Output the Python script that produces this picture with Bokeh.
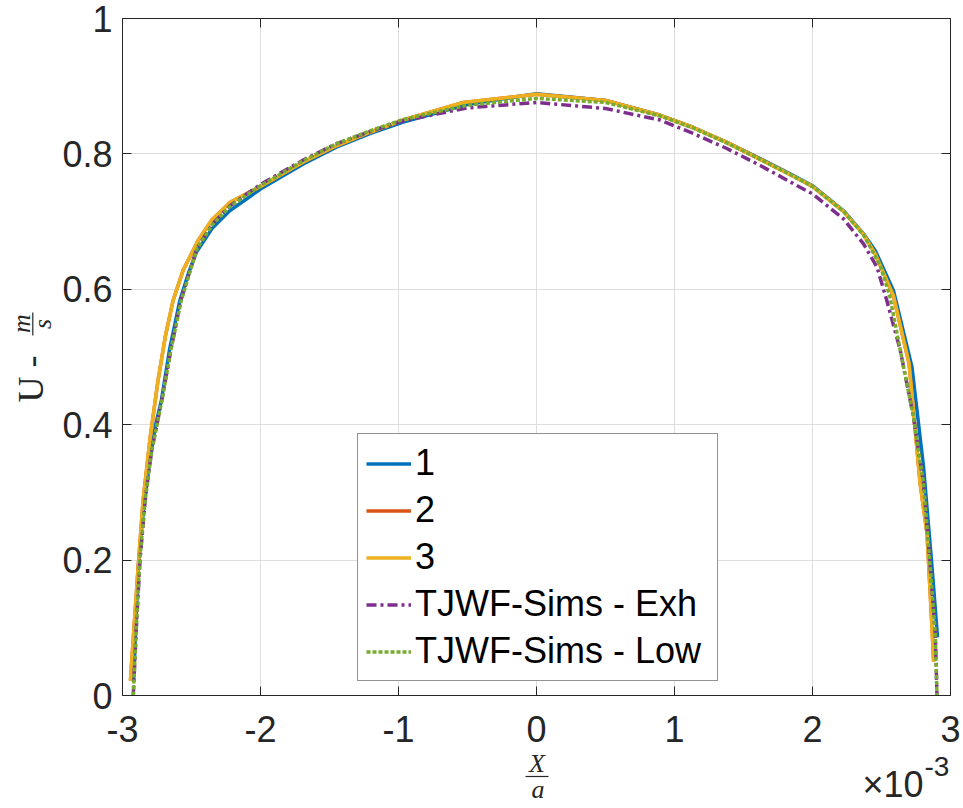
from bokeh.plotting import figure
from bokeh.models import (Range1d, FixedTicker, LinearAxis, Legend, LegendItem, Grid,
                          Label, BoxAnnotation, CustomJSTickFormatter, ColumnDataSource)
from bokeh.embed import file_html
from bokeh.resources import INLINE

# ---------------- data (x in units of 1e-3, i.e. X/a x 10^3 ; y = U in m/s) ----------------
x1 = [-2.920, -2.905, -2.885, -2.860, -2.839, -2.800, -2.760, -2.718, -2.660, -2.585, -2.520,
      -2.464, -2.350, -2.223, -2.000, -1.690, -1.450, -1.207, -0.966, -0.500, 0.000, 0.500,
      0.896, 1.137, 1.379, 1.621, 1.862, 2.000, 2.225, 2.370, 2.455, 2.587, 2.721, 2.805,
      2.866, 2.906]
y1 = [0.020, 0.100, 0.190, 0.250, 0.288, 0.350, 0.400, 0.436, 0.510, 0.583, 0.625,
      0.655, 0.690, 0.716, 0.748, 0.785, 0.810, 0.830, 0.847, 0.873, 0.889, 0.879,
      0.857, 0.839, 0.817, 0.793, 0.768, 0.753, 0.716, 0.682, 0.657, 0.598, 0.485, 0.337,
      0.190, 0.086]

x2 = [-2.942, -2.920, -2.890, -2.851, -2.800, -2.743, -2.690, -2.634, -2.561, -2.452, -2.350,
      -2.223, -2.000, -1.690, -1.450, -1.207, -0.966, -0.530, 0.000, 0.500, 0.896, 1.137,
      1.379, 1.621, 1.862, 2.000, 2.225, 2.370, 2.455, 2.587, 2.700, 2.780, 2.830, 2.866, 2.878]
y2 = [0.022, 0.090, 0.180, 0.288, 0.380, 0.465, 0.530, 0.583, 0.628, 0.672, 0.703,
      0.728, 0.752, 0.788, 0.812, 0.832, 0.850, 0.876, 0.888, 0.879, 0.857, 0.839,
      0.817, 0.792, 0.767, 0.752, 0.715, 0.681, 0.652, 0.590, 0.490, 0.313, 0.239, 0.100, 0.050]

x3 = [-2.943, -2.920, -2.890, -2.851, -2.800, -2.743, -2.690, -2.634, -2.561, -2.452, -2.350,
      -2.223, -2.000, -1.690, -1.450, -1.207, -0.966, -0.530, 0.000, 0.500, 0.896, 1.137,
      1.379, 1.621, 1.862, 2.000, 2.225, 2.370, 2.455, 2.587, 2.700, 2.780, 2.830, 2.866, 2.878]
y3 = [0.022, 0.090, 0.180, 0.288, 0.380, 0.465, 0.530, 0.583, 0.628, 0.672, 0.703,
      0.728, 0.752, 0.788, 0.812, 0.832, 0.850, 0.876, 0.888, 0.879, 0.857, 0.839,
      0.817, 0.792, 0.767, 0.752, 0.715, 0.681, 0.652, 0.590, 0.490, 0.313, 0.239, 0.100, 0.050]

x4 = [-2.922, -2.900, -2.873, -2.835, -2.790, -2.712, -2.650, -2.578, -2.462, -2.350, -2.223,
      -2.000, -1.690, -1.450, -1.207, -0.966, -0.500, 0.000, 0.500, 0.896, 1.137, 1.379,
      1.621, 1.862, 2.000, 2.225, 2.370, 2.467, 2.539, 2.636, 2.732, 2.805, 2.853, 2.890, 2.902]
y4 = [0.000, 0.100, 0.200, 0.290, 0.360, 0.440, 0.510, 0.583, 0.660, 0.696, 0.723,
      0.755, 0.791, 0.815, 0.833, 0.849, 0.868, 0.876, 0.867, 0.850, 0.830, 0.808,
      0.783, 0.756, 0.741, 0.704, 0.667, 0.633, 0.583, 0.510, 0.411, 0.313, 0.190, 0.091, 0.000]

x5 = [-2.922, -2.900, -2.875, -2.835, -2.790, -2.710, -2.650, -2.575, -2.460, -2.350, -2.223,
      -2.000, -1.690, -1.450, -1.207, -0.966, -0.500, 0.000, 0.500, 0.896, 1.137, 1.379,
      1.621, 1.862, 2.000, 2.225, 2.370, 2.491, 2.560, 2.636, 2.732, 2.805, 2.853, 2.890, 2.902]
y5 = [0.000, 0.100, 0.200, 0.290, 0.360, 0.440, 0.510, 0.583, 0.660, 0.695, 0.722,
      0.753, 0.790, 0.815, 0.834, 0.851, 0.872, 0.882, 0.876, 0.856, 0.838, 0.816,
      0.792, 0.767, 0.752, 0.715, 0.680, 0.635, 0.590, 0.510, 0.411, 0.313, 0.190, 0.091, 0.000]

series_names = ["1", "2", "3", "TJWF-Sims - Exh", "TJWF-Sims - Low"]
x_ticks = [-3, -2, -1, 0, 1, 2, 3]
y_ticks = [0, 0.2, 0.4, 0.6, 0.8, 1]

# ---------------- styling / layout ----------------
colors = ["#0072BD", "#D95319", "#EDB120", "#7E2F8E", "#77AC30"]
dashes = ["solid", "solid", "solid", "10 4 3 4", "4 2"]
AX = "#262626"
FONT = "Liberation Sans"
SERIF = "Liberation Serif"
W, H = 963, 808
M_L, M_R, M_T, M_B = 122, 13, 18, 113   # pixel margins around the axes box

xmin, xmax = x_ticks[0], x_ticks[-1]
ymin, ymax = y_ticks[0], y_ticks[-1]
kx = (W - M_L - M_R) / (xmax - xmin)
ky = (H - M_T - M_B) / (ymax - ymin)

p = figure(width=W, height=H, output_backend="svg", toolbar_location=None,
           x_axis_type=None, y_axis_type=None,
           x_range=Range1d(xmin - M_L / kx, xmax + M_R / kx),
           y_range=Range1d(ymin - M_B / ky, ymax + M_T / ky),
           min_border=0, min_border_left=0, min_border_right=0,
           min_border_top=0, min_border_bottom=0,
           background_fill_color="white", border_fill_color="white",
           outline_line_color=None)

# grid
has_cross = "cross_bounds" in Grid.properties()
gx = Grid(dimension=0, ticker=FixedTicker(ticks=x_ticks), bounds=(xmin, xmax),
          grid_line_color="#dedede", grid_line_width=1)
gy = Grid(dimension=1, ticker=FixedTicker(ticks=y_ticks), bounds=(ymin, ymax),
          grid_line_color="#dedede", grid_line_width=1)
if has_cross:
    gx.cross_bounds = (ymin, ymax)
    gy.cross_bounds = (xmin, xmax)
    p.add_layout(gx)
    p.add_layout(gy)
else:
    p.segment(x0=x_ticks, y0=[ymin] * len(x_ticks), x1=x_ticks, y1=[ymax] * len(x_ticks),
              line_color="#dedede", line_width=1)
    p.segment(x0=[xmin] * len(y_ticks), y0=y_ticks, x1=[xmax] * len(y_ticks), y1=y_ticks,
              line_color="#dedede", line_width=1)

lbl = CustomJSTickFormatter(code="return String(tick)")
blank = CustomJSTickFormatter(code="return ''")

def make_axis(ticks, bounds, loc, fmt, standoff):
    return LinearAxis(ticker=FixedTicker(ticks=ticks), formatter=fmt, bounds=bounds,
                      fixed_location=loc, major_tick_in=9, major_tick_out=0,
                      major_label_standoff=standoff, minor_tick_line_color=None,
                      axis_line_color=AX, axis_line_width=1, major_tick_line_color=AX,
                      major_label_text_font=FONT, major_label_text_font_size="36px",
                      major_label_text_color=AX)

p.add_layout(make_axis(x_ticks, (xmin, xmax), ymin, lbl, 20), "below")
p.add_layout(make_axis(y_ticks, (ymin, ymax), xmin, lbl, 10), "left")
p.add_layout(make_axis(y_ticks, (ymin, ymax), xmax, blank, 0), "right")
p.add_layout(make_axis(x_ticks, (xmin, xmax), ymax, blank, 0), "above")

xs = [x1, x2, x3, x4, x5]
ys = [y1, y2, y3, y4, y5]
items = []
for name, xx, yy, c, d in zip(series_names, xs, ys, colors, dashes):
    src = ColumnDataSource(dict(x=xx, y=yy))
    r = p.line("x", "y", source=src, line_color=c, line_width=3.5, line_dash=d)
    items.append(LegendItem(label=name, renderers=[r]))

legend = Legend(items=items, location=(357, H - 681), orientation="vertical",
                label_text_font=FONT, label_text_font_size="36px", label_text_color="black",
                glyph_width=45, glyph_height=41, label_height=41, label_width=294,
                label_standoff=4, spacing=5, padding=8, margin=0,
                border_line_color=AX, border_line_width=1,
                background_fill_color="white", background_fill_alpha=1.0)
p.add_layout(legend, "center")

# ---------------- axis labels (fractions built from text) ----------------
BASE_SHIFT = 0.36   # measured offset of the rendered alphabetic baseline, in em

def sy(cy):
    return H - cy

def lab(text, cx, cy, size, font=SERIF, style="normal", align="center", rotated=False):
    em = float(size.replace("px", ""))
    if rotated:
        cx = cx - BASE_SHIFT * em
    else:
        cy = cy - BASE_SHIFT * em
    return Label(x=cx, y=sy(cy), x_units="screen", y_units="screen", text=text,
                 angle=1.5708 if rotated else 0.0, text_align=align,
                 text_baseline="alphabetic", text_font=font, text_font_style=style,
                 text_font_size=size, text_color=AX)

def bar(l, r, t, b):
    return BoxAnnotation(left=l, right=r, bottom=sy(b), top=sy(t),
                         left_units="screen", right_units="screen",
                         bottom_units="screen", top_units="screen",
                         fill_color=AX, fill_alpha=1.0, line_color=None, line_alpha=0)

# y label: "U - m/s" (rotated)
p.add_layout(lab("U -", 43, 402, "36px", align="left", rotated=True))
p.add_layout(lab("m", 30, 323, "26px", style="italic", rotated=True))
p.add_layout(lab("s", 51, 323.5, "26px", style="italic", rotated=True))
p.add_layout(bar(31.7, 32.9, 312, 335))

# x label: X / a
p.add_layout(lab("X", 536.5, 772, "26px", style="italic"))
p.add_layout(lab("a", 537.5, 798, "26px", style="italic"))
p.add_layout(bar(525, 548, 775.4, 776.6))

# exponent "x10^-3"
p.add_layout(lab("×10", 923, 797, "36px", font=FONT, align="right"))
p.add_layout(lab("-3", 924, 776, "28px", font=FONT, align="left"))

open("out.html", "w").write(file_html(p, INLINE))
